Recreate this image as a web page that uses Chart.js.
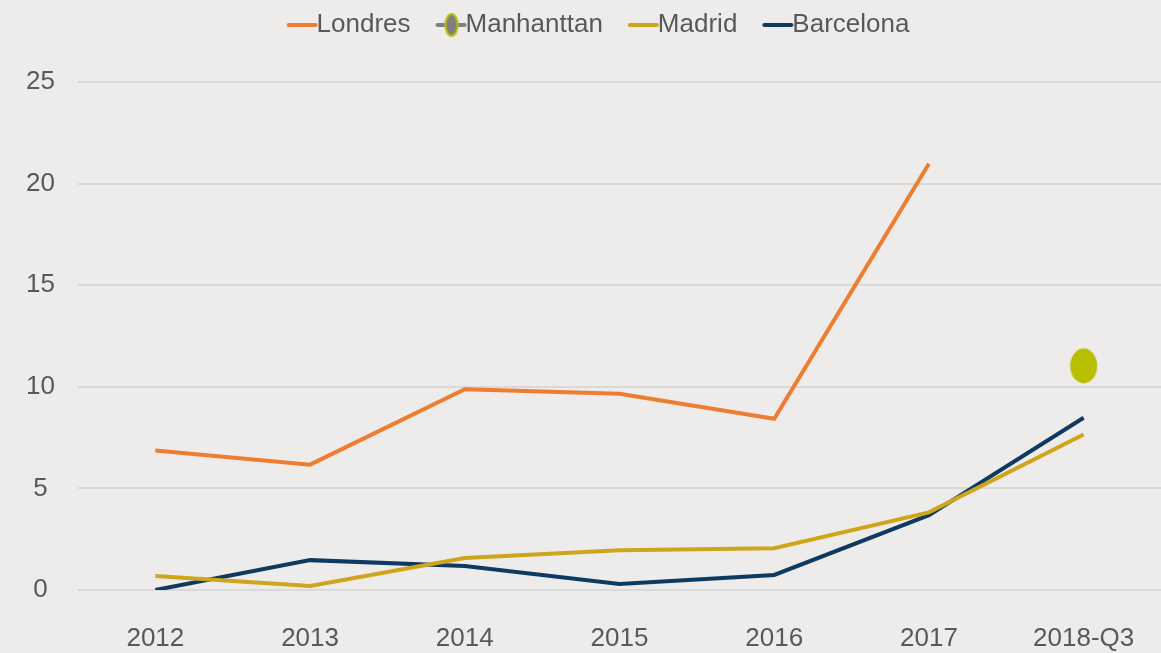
<!DOCTYPE html>
<html>
<head>
<meta charset="utf-8">
<script src="https://cdn.jsdelivr.net/npm/chart.js@4.4.0/dist/chart.umd.min.js"></script>
<style>
  html, body { margin: 0; padding: 0; background: #edecea; }
  canvas { display: block; }
</style>
</head>
<body>
<canvas id="myChart" width="1161" height="653"></canvas>
<script>
const labels = ['2012', '2013', '2014', '2015', '2016', '2017', '2018-Q3'];
const londres = [6.87, 6.17, 9.88, 9.66, 8.43, 20.98, null];
const manhanttan = [null, null, null, null, null, null, 11.03];
const madrid = [0.69, 0.2, 1.57, 1.96, 2.06, 3.82, 7.65];
const barcelona = [0, 1.47, 1.18, 0.29, 0.74, 3.68, 8.48];

const ORANGE = '#ed7d31';
const OLIVE = '#b8bf00';
const GOLD = '#cfa51c';
const NAVY = '#0e3a62';
const TEXT = '#595959';
const FONT = '"Liberation Sans Narrow", "Liberation Sans", sans-serif';

// legend markers: a short line sitting right next to the text
function legendMarker(color, dot) {
    const c = document.createElement('canvas');
    c.width = 60;
    c.height = 28;
    const g = c.getContext('2d');
    g.strokeStyle = color;
    g.lineWidth = 4;
    g.lineCap = 'round';
    g.beginPath();
    g.moveTo(30, 14);
    g.lineTo(57, 14);
    g.stroke();
    if (dot) {
        g.fillStyle = '#7f7f7f';
        g.strokeStyle = dot;
        g.lineWidth = 2;
        g.beginPath();
        g.ellipse(44, 14, 6, 11, 0, 0, Math.PI * 2);
        g.fill();
        g.stroke();
    }
    return c;
}

// the lone 2018-Q3 point is drawn as a slightly tall ellipse
function ellipseMark(color) {
    const c = document.createElement('canvas');
    c.width = 30;
    c.height = 38;
    const g = c.getContext('2d');
    g.fillStyle = color;
    g.beginPath();
    g.ellipse(15, 19, 13.5, 17.5, 0, 0, Math.PI * 2);
    g.fill();
    return c;
}

const markers = [
    legendMarker(ORANGE),
    legendMarker('#7f7f7f', OLIVE),
    legendMarker(GOLD),
    legendMarker(NAVY)
];

// push the plot down below the legend, and nudge the legend a bit right
const legendTweak = {
    id: 'legendTweak',
    beforeInit(chart) {
        const legend = chart.legend;
        const fit = legend.fit;
        legend.fit = function() {
            fit.bind(legend)();
            this.height += 34;
        };
        const draw = legend.draw;
        legend.draw = function() {
            const c = chart.ctx;
            c.save();
            c.translate(11, 0);
            draw.bind(legend)();
            c.restore();
        };
    }
};

const ctx = document.getElementById('myChart').getContext('2d');

const data = {
    labels: labels,
    datasets: [
        {
            label: 'Londres',
            data: londres,
            borderColor: ORANGE,
            borderWidth: 4,
            pointRadius: 0,
            tension: 0
        },
        {
            label: 'Manhanttan',
            data: manhanttan,
            borderColor: OLIVE,
            backgroundColor: OLIVE,
            showLine: false,
            pointStyle: ellipseMark(OLIVE),
            pointRadius: 15
        },
        {
            label: 'Madrid',
            data: madrid,
            borderColor: GOLD,
            borderWidth: 4,
            pointRadius: 0,
            tension: 0
        },
        {
            label: 'Barcelona',
            data: barcelona,
            borderColor: NAVY,
            borderWidth: 4,
            pointRadius: 0,
            tension: 0
        }
    ]
};

const config = {
    type: 'line',
    data: data,
    plugins: [legendTweak],
    options: {
        responsive: false,
        devicePixelRatio: 1,
        animation: false,
        layout: {
            autoPadding: false,
            padding: 0
        },
        plugins: {
            legend: {
                position: 'top',
                labels: {
                    usePointStyle: true,
                    pointStyleWidth: 30,
                    padding: 12,
                    color: TEXT,
                    font: { family: FONT, size: 26 },
                    generateLabels: function(chart) {
                        const items = Chart.defaults.plugins.legend.labels.generateLabels(chart);
                        items.forEach(function(item, i) {
                            item.pointStyle = markers[i];
                        });
                        return items;
                    }
                }
            },
            tooltip: { enabled: false }
        },
        scales: {
            x: {
                offset: true,
                grid: { display: false },
                border: { display: false },
                ticks: {
                    color: TEXT,
                    padding: 25,
                    maxRotation: 0,
                    font: { family: FONT, size: 26 }
                },
                afterFit: function(axis) {
                    axis.paddingLeft = 0;
                    axis.paddingRight = 0;
                    axis.height = 63;
                }
            },
            y: {
                min: 0,
                max: 25,
                grid: { color: '#d9d9d9', lineWidth: 2, drawTicks: false },
                border: { display: false },
                ticks: {
                    stepSize: 5,
                    color: TEXT,
                    crossAlign: 'center',
                    padding: 23,
                    font: { family: FONT, size: 26 }
                },
                afterFit: function(axis) {
                    axis.width = 78;
                }
            }
        }
    }
};

const myChart = new Chart(ctx, config);
</script>
</body>
</html>
